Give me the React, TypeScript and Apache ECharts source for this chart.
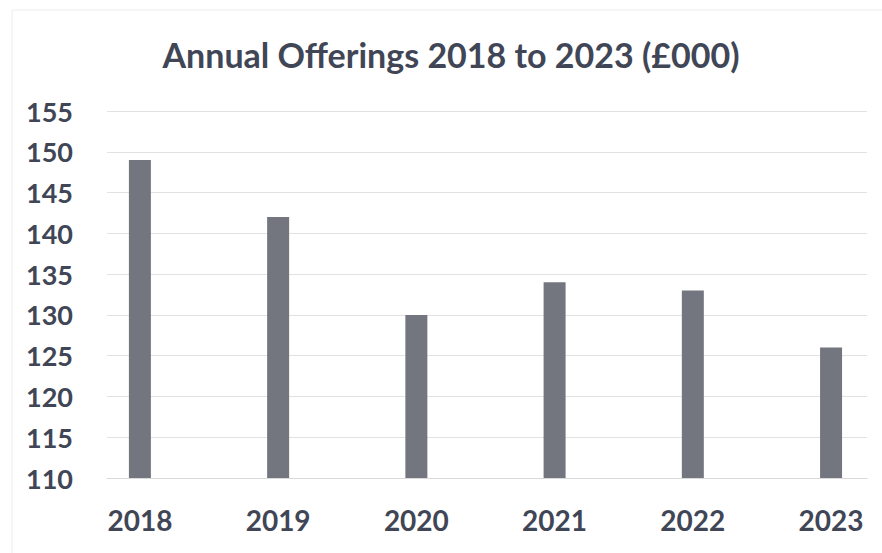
import React, { useEffect, useRef } from "react";
import * as echarts from "echarts";

const titleText = "Annual Offerings 2018 to 2023 (£000)";
const years = [2018, 2019, 2020, 2021, 2022, 2023];
const offerings = [149, 142, 130, 134, 133, 126];
const yMin = 110;
const yMax = 155;
const yStep = 5;

const textColor = "#404656";
const barColor = "#73767f";
const fontFamily = "Lato, 'Noto Sans', sans-serif";

export default function App() {
  const ref = useRef<HTMLDivElement>(null);
  useEffect(() => {
    if (!ref.current) return;
    const chart = echarts.init(ref.current, null, { renderer: "svg" });
    chart.setOption({
      animation: false,
      backgroundColor: "#ffffff",
      title: {
        text: titleText,
        left: 446,
        textAlign: "center",
        top: 32,
        textStyle: { color: textColor, fontSize: 34, fontWeight: "bold", fontFamily },
      },
      graphic: [
        {
          type: "rect",
          shape: { x: 12, y: 10, width: 880, height: 560 },
          style: { fill: "none", stroke: "#ececec", lineWidth: 1 },
          silent: true,
        },
      ],
      grid: { left: 107, right: 15, top: 111, bottom: 75 },
      xAxis: {
        type: "value",
        min: 2017.762,
        max: 2023.26,
        splitLine: { show: false },
        axisTick: { show: false },
        axisLine: { show: true, onZero: false, lineStyle: { color: "#d9d9d9", width: 1 } },
        axisLabel: {
          customValues: years,
          formatter: (v: number) => String(Math.round(v)),
          color: textColor,
          fontSize: 28,
          fontWeight: "bold",
          fontFamily,
          margin: 28,
        },
      },
      yAxis: {
        type: "value",
        min: yMin,
        max: yMax,
        interval: yStep,
        axisLine: { show: false },
        axisTick: { show: false },
        splitLine: { show: true, lineStyle: { color: "#e2e2e2", width: 1 } },
        axisLabel: {
          color: textColor,
          fontSize: 27,
          fontWeight: "bold",
          fontFamily,
          margin: 34,
        },
      },
      series: [
        {
          type: "bar",
          data: years.map((y, i) => [y, offerings[i]]),
          barWidth: 22,
          itemStyle: { color: barColor },
        },
      ],
    });
    return () => chart.dispose();
  }, []);
  return (
    <div
      ref={ref}
      style={{ position: "fixed", left: 0, top: 0, width: 882, height: 553 }}
    />
  );
}
